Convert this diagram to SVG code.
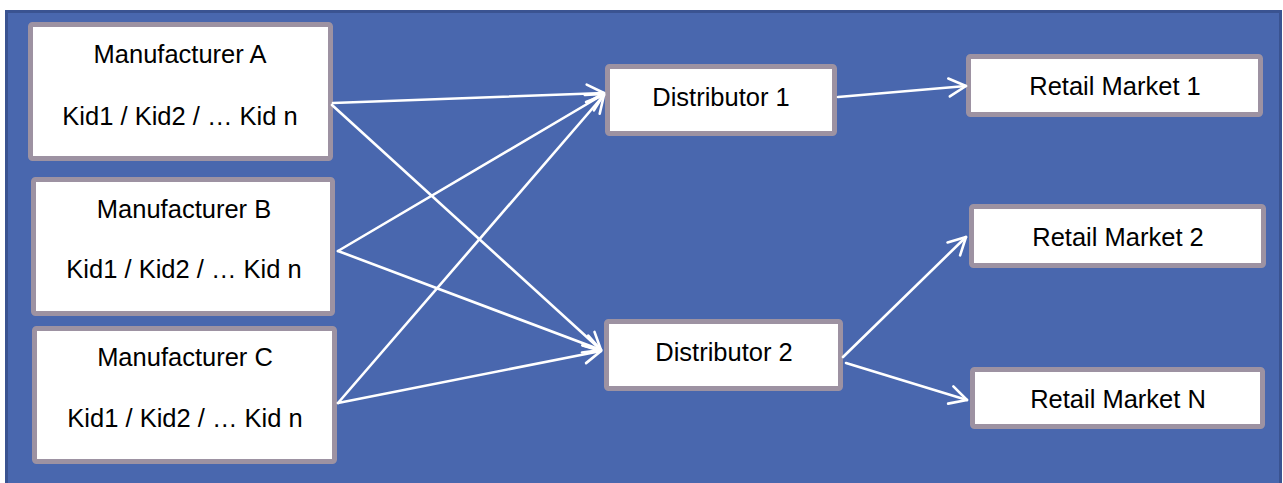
<svg xmlns="http://www.w3.org/2000/svg" width="1283" height="483" viewBox="0 0 1283 483">
<style>
.node rect{fill:#ffffff;stroke:#9d92a2;stroke-width:5;}
.node text{font-family:"Liberation Sans",Arial,sans-serif;font-size:25.5px;fill:#000000;text-anchor:middle;}
.conn line{stroke:#ffffff;stroke-width:2.6;stroke-linecap:round;marker-end:url(#arr);}
</style>
<defs>
<marker id="arr" markerUnits="userSpaceOnUse" orient="auto" viewBox="-20 -12 24 24" markerWidth="24" markerHeight="24" refX="0" refY="0">
<path d="M-17,-9 L0,0 L-17,9" fill="none" stroke="#ffffff" stroke-width="2.6" stroke-linecap="round" stroke-linejoin="round"/>
</marker>
</defs>
<rect x="0" y="0" width="1283" height="483" fill="#ffffff"/>
<rect x="6.5" y="11.5" width="1274" height="480" fill="#4967ae" stroke="#3a5391" stroke-width="3"/>
<g id="mfrA" class="node">
<rect x="30.5" y="24.5" width="300" height="134" rx="2"/>
<text x="180" y="63">Manufacturer A</text>
<text x="180" y="125">Kid1 / Kid2 / … Kid n</text>
</g>
<g id="mfrB" class="node">
<rect x="33.5" y="179.5" width="299" height="134" rx="2"/>
<text x="184" y="218">Manufacturer B</text>
<text x="184" y="278">Kid1 / Kid2 / … Kid n</text>
</g>
<g id="mfrC" class="node">
<rect x="34.5" y="328.5" width="300" height="133" rx="2"/>
<text x="185" y="366">Manufacturer C</text>
<text x="185" y="427">Kid1 / Kid2 / … Kid n</text>
</g>
<g id="dist1" class="node">
<rect x="607.5" y="66.5" width="227" height="67" rx="2"/>
<text x="721" y="106">Distributor 1</text>
</g>
<g id="dist2" class="node">
<rect x="606.5" y="321.5" width="234" height="67" rx="2"/>
<text x="724" y="361">Distributor 2</text>
</g>
<g id="retail1" class="node">
<rect x="968.5" y="56.5" width="292" height="58" rx="2"/>
<text x="1115" y="95">Retail Market 1</text>
</g>
<g id="retail2" class="node">
<rect x="971.5" y="206.5" width="292" height="59" rx="2"/>
<text x="1118" y="246">Retail Market 2</text>
</g>
<g id="retailN" class="node">
<rect x="972.5" y="369.5" width="290" height="57" rx="2"/>
<text x="1118" y="408">Retail Market N</text>
</g>
<g id="connectors" class="conn">
<line x1="333" y1="103" x2="604" y2="93"/>
<line x1="332" y1="105" x2="601" y2="350"/>
<line x1="338" y1="251" x2="604" y2="94"/>
<line x1="338" y1="251" x2="601" y2="350"/>
<line x1="338" y1="403" x2="604" y2="95"/>
<line x1="338" y1="403" x2="601" y2="351"/>
<line x1="838" y1="97" x2="966" y2="86"/>
<line x1="843" y1="357" x2="966" y2="237"/>
<line x1="846" y1="363" x2="967" y2="400"/>
</g>
</svg>
